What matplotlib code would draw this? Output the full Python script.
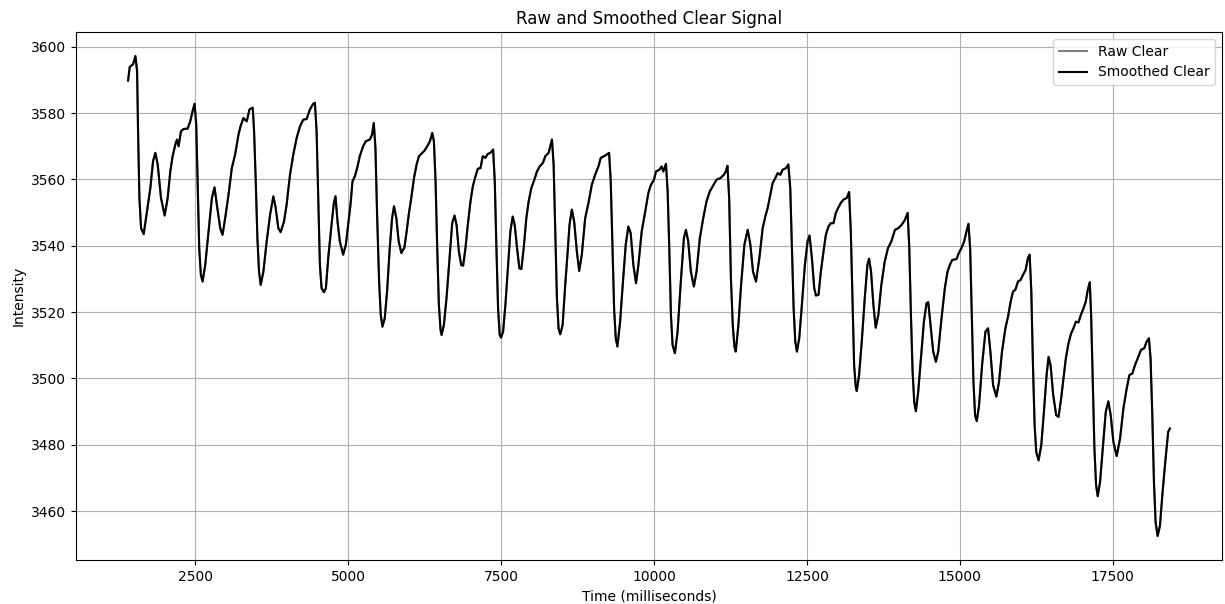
import matplotlib
matplotlib.use("Agg")
import matplotlib.pyplot as plt

# Time stamps (ms) and clear-channel intensity
time_ms = [
    1402, 1429, 1483, 1522, 1549, 1565, 1587, 1614, 1657, 1712, 1766, 1810, 1848, 1886, 1940, 2000,
    2049, 2092, 2130, 2174, 2201, 2228, 2266, 2310, 2375, 2418, 2457, 2489, 2516, 2538, 2565, 2592,
    2620, 2663, 2717, 2772, 2815, 2853, 2908, 2946, 2989, 3044, 3098, 3152, 3207, 3240, 3288, 3342,
    3386, 3440, 3462, 3489, 3516, 3543, 3570, 3614, 3668, 3723, 3777, 3815, 3858, 3896, 3951, 3994,
    4049, 4103, 4158, 4212, 4266, 4321, 4375, 4429, 4456, 4484, 4511, 4538, 4565, 4603, 4636, 4674,
    4728, 4766, 4793, 4826, 4864, 4918, 4962, 5000, 5038, 5071, 5109, 5147, 5190, 5245, 5288, 5353,
    5391, 5419, 5446, 5473, 5506, 5533, 5560, 5598, 5636, 5680, 5718, 5750, 5788, 5826, 5870, 5920,
    5956, 5994, 6032, 6076, 6119, 6157, 6212, 6250, 6293, 6337, 6375, 6402, 6429, 6456, 6483, 6511,
    6527, 6565, 6608, 6657, 6701, 6739, 6772, 6810, 6848, 6880, 6918, 6956, 7000, 7038, 7081, 7119,
    7163, 7201, 7244, 7283, 7326, 7370, 7397, 7424, 7451, 7478, 7500, 7533, 7571, 7614, 7652, 7690,
    7723, 7761, 7799, 7832, 7870, 7913, 7951, 7995, 8044, 8087, 8131, 8185, 8223, 8277, 8305, 8332,
    8359, 8386, 8413, 8440, 8468, 8506, 8549, 8580, 8619, 8657, 8695, 8739, 8777, 8820, 8875, 8929,
    8984, 9038, 9092, 9130, 9185, 9228, 9266, 9293, 9321, 9348, 9375, 9402, 9446, 9489, 9538, 9581,
    9619, 9663, 9706, 9745, 9799, 9853, 9908, 9946, 10000, 10033, 10087, 10125, 10152, 10196, 10223, 10250,
    10277, 10304, 10342, 10386, 10435, 10489, 10522, 10560, 10603, 10652, 10696, 10750, 10805, 10859, 10913, 10968,
    11022, 11087, 11142, 11174, 11201, 11229, 11258, 11288, 11315, 11337, 11380, 11424, 11478, 11532, 11576, 11619,
    11668, 11723, 11777, 11820, 11859, 11902, 11940, 11984, 12022, 12065, 12103, 12158, 12196, 12228, 12255, 12283,
    12310, 12337, 12375, 12418, 12467, 12511, 12543, 12582, 12620, 12647, 12690, 12728, 12772, 12810, 12853, 12891,
    12935, 12973, 13011, 13054, 13098, 13152, 13190, 13218, 13245, 13272, 13299, 13315, 13353, 13397, 13446, 13489,
    13516, 13549, 13587, 13625, 13668, 13717, 13772, 13826, 13881, 13940, 13994, 14049, 14103, 14147, 14174, 14201,
    14228, 14255, 14282, 14320, 14364, 14413, 14456, 14484, 14522, 14565, 14609, 14647, 14701, 14755, 14799, 14837,
    14875, 14946, 14984, 15027, 15071, 15109, 15141, 15169, 15196, 15223, 15250, 15277, 15315, 15364, 15419, 15462,
    15500, 15544, 15598, 15641, 15690, 15745, 15788, 15832, 15870, 15908, 15951, 15995, 16033, 16076, 16114, 16142,
    16169, 16196, 16223, 16250, 16288, 16332, 16375, 16419, 16451, 16484, 16527, 16576, 16614, 16657, 16695, 16733,
    16777, 16820, 16858, 16897, 16940, 16978, 17022, 17060, 17092, 17125, 17147, 17174, 17201, 17228, 17255, 17293,
    17337, 17386, 17429, 17467, 17511, 17565, 17620, 17674, 17728, 17772, 17821, 17864, 17908, 17962, 18016, 18054,
    18092, 18119, 18147, 18174, 18201, 18234, 18272, 18315, 18364, 18407, 18435,
]

raw_clear = [
    3589.8, 3593.9, 3594.7, 3597.2, 3592.6, 3574.5, 3554.4, 3545.3, 3543.5, 3550.4, 3557.4, 3565.5, 3568.0, 3564.5, 3554.4, 3549.1,
    3554.4, 3562.4, 3567.0, 3570.5, 3572.0, 3570.0, 3574.5, 3575.2, 3575.3, 3577.5, 3580.6, 3582.8, 3576.5, 3559.4, 3539.3, 3531.2,
    3529.2, 3534.2, 3544.3, 3554.4, 3557.6, 3552.4, 3545.3, 3543.3, 3548.3, 3555.4, 3563.4, 3567.5, 3573.5, 3576.0, 3578.5, 3577.5,
    3581.1, 3581.6, 3574.5, 3559.4, 3542.3, 3532.2, 3528.2, 3532.2, 3541.3, 3549.3, 3554.9, 3551.4, 3545.3, 3544.1, 3547.3, 3552.4,
    3561.4, 3567.5, 3572.5, 3576.0, 3578.0, 3578.2, 3581.1, 3582.8, 3583.1, 3574.5, 3554.4, 3534.2, 3527.2, 3526.0, 3527.2, 3536.3,
    3546.3, 3552.9, 3554.9, 3547.3, 3541.3, 3537.3, 3540.3, 3546.3, 3552.4, 3559.4, 3560.9, 3563.4, 3567.0, 3570.0, 3571.5, 3572.0,
    3573.5, 3577.0, 3569.5, 3549.3, 3529.2, 3519.1, 3515.6, 3518.1, 3526.2, 3539.3, 3548.3, 3551.9, 3548.3, 3541.3, 3537.8, 3539.5,
    3544.3, 3549.9, 3554.4, 3560.4, 3564.5, 3567.0, 3568.0, 3568.7, 3570.0, 3571.5, 3574.0, 3571.5, 3559.4, 3539.3, 3522.2, 3514.6,
    3513.1, 3516.1, 3524.2, 3536.3, 3546.8, 3549.1, 3546.3, 3538.3, 3534.2, 3534.0, 3539.3, 3546.3, 3553.4, 3557.9, 3560.9, 3563.2,
    3563.4, 3567.0, 3566.5, 3567.7, 3568.0, 3569.0, 3559.4, 3539.3, 3521.1, 3513.1, 3512.3, 3514.1, 3522.2, 3534.2, 3544.3, 3548.8,
    3546.3, 3539.3, 3533.2, 3533.0, 3539.3, 3548.3, 3553.4, 3557.4, 3559.9, 3562.4, 3563.9, 3565.0, 3567.0, 3568.0, 3570.0, 3572.0,
    3564.5, 3544.3, 3524.2, 3515.1, 3513.3, 3516.1, 3528.2, 3536.0, 3546.3, 3550.9, 3547.3, 3538.3, 3532.4, 3537.3, 3548.3, 3552.9,
    3558.4, 3561.4, 3563.9, 3566.5, 3567.0, 3567.5, 3568.0, 3559.4, 3539.3, 3521.1, 3512.1, 3509.6, 3517.1, 3528.2, 3540.3, 3545.8,
    3543.8, 3534.2, 3528.7, 3534.2, 3544.3, 3549.9, 3555.9, 3558.2, 3559.9, 3562.4, 3562.9, 3563.9, 3562.4, 3564.7, 3556.4, 3539.3,
    3519.1, 3510.1, 3507.6, 3514.1, 3528.2, 3542.3, 3544.8, 3541.3, 3532.2, 3527.7, 3532.2, 3542.3, 3548.3, 3553.4, 3556.4, 3558.2,
    3559.9, 3560.4, 3561.4, 3562.4, 3564.1, 3554.4, 3530.0, 3516.1, 3509.6, 3508.1, 3516.1, 3528.2, 3540.3, 3544.8, 3540.3, 3532.2,
    3529.2, 3536.3, 3545.3, 3548.8, 3551.4, 3555.4, 3558.9, 3560.4, 3561.9, 3561.4, 3562.9, 3563.4, 3564.5, 3557.4, 3539.3, 3521.1,
    3511.1, 3508.1, 3512.1, 3522.2, 3534.2, 3541.3, 3543.1, 3536.3, 3527.2, 3525.0, 3525.2, 3532.2, 3538.3, 3543.3, 3545.8, 3546.8,
    3546.8, 3549.9, 3551.4, 3552.9, 3553.9, 3554.4, 3556.2, 3544.3, 3524.2, 3504.0, 3497.5, 3496.2, 3501.0, 3511.1, 3524.2, 3534.2,
    3536.1, 3532.2, 3522.2, 3515.3, 3519.1, 3528.2, 3535.2, 3539.3, 3541.3, 3544.8, 3545.3, 3546.3, 3547.8, 3549.9, 3539.3, 3519.1,
    3502.0, 3492.9, 3490.1, 3496.0, 3506.0, 3517.1, 3522.7, 3523.0, 3516.1, 3508.1, 3505.0, 3508.1, 3518.1, 3527.2, 3532.2, 3534.2,
    3535.7, 3536.0, 3537.8, 3539.3, 3541.3, 3544.3, 3546.6, 3539.3, 3519.1, 3499.0, 3488.9, 3487.1, 3491.9, 3504.0, 3514.1, 3515.1,
    3508.1, 3498.0, 3494.5, 3499.0, 3508.1, 3515.1, 3518.6, 3523.2, 3526.2, 3526.7, 3529.2, 3529.7, 3531.2, 3532.7, 3536.3, 3537.3,
    3526.2, 3504.0, 3485.9, 3477.8, 3475.3, 3479.9, 3489.9, 3501.0, 3506.5, 3504.0, 3495.0, 3488.9, 3488.4, 3494.0, 3500.0, 3506.0,
    3510.6, 3513.6, 3515.1, 3517.1, 3516.9, 3519.1, 3521.1, 3523.2, 3526.7, 3529.0, 3519.1, 3499.0, 3478.8, 3467.8, 3464.5, 3468.8,
    3478.8, 3489.9, 3493.1, 3488.9, 3480.9, 3476.6, 3481.9, 3490.9, 3496.9, 3501.0, 3501.5, 3504.0, 3506.0, 3508.6, 3509.1, 3511.1,
    3512.1, 3506.0, 3488.9, 3468.8, 3456.7, 3452.5, 3455.6, 3465.7, 3475.8, 3483.9, 3484.9,
]

# the smoothed trace sits on top of the raw one at this scale
smoothed_clear = list(raw_clear)

fig = plt.figure(figsize=(12.25, 6.04), dpi=100)
ax = fig.add_axes([76 / 1225, 44 / 604, 1146 / 1225, 528 / 604])

ax.plot(time_ms, raw_clear, color="gray", label="Raw Clear")
ax.plot(time_ms, smoothed_clear, color="black", label="Smoothed Clear")

ax.set_title("Raw and Smoothed Clear Signal")
ax.set_xlabel("Time (milliseconds)")
ax.set_ylabel("Intensity")
ax.legend(loc="upper right")
ax.grid(True)

fig.savefig("out.png", dpi=100)
